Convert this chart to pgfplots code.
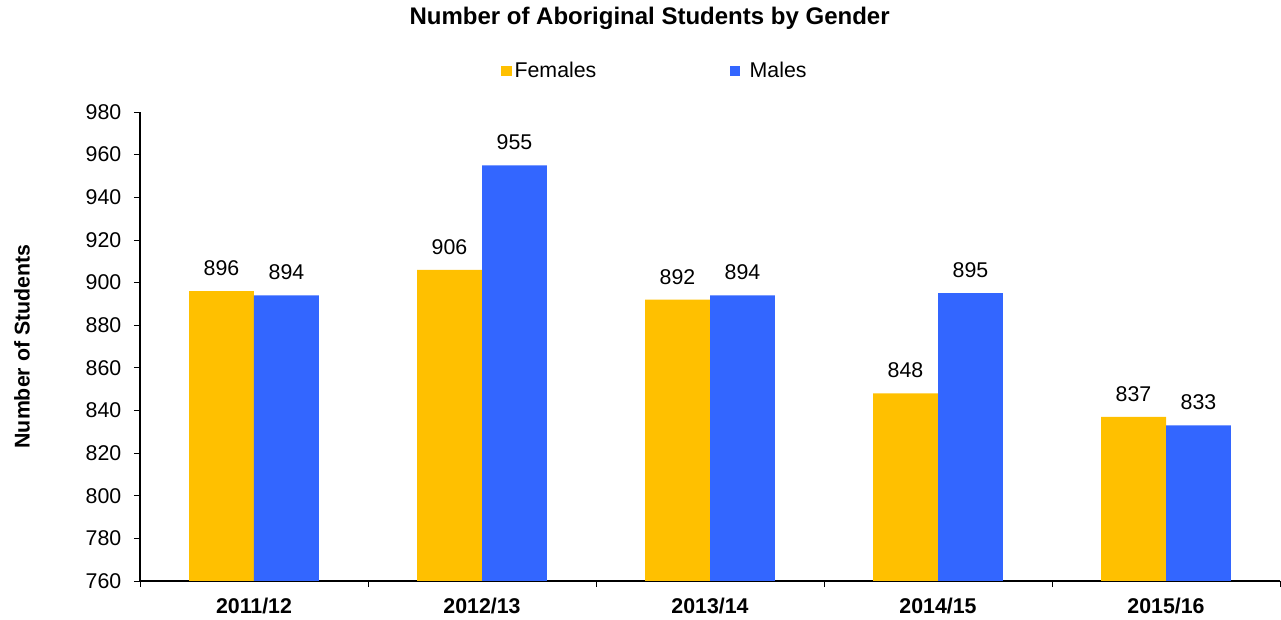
\documentclass[border=0pt]{standalone}
\usepackage{fontspec}
\setmainfont{Liberation Sans}
\usepackage{pgfplots}
\pgfplotsset{compat=1.18}
\definecolor{fem}{HTML}{FFC000}
\definecolor{mal}{HTML}{3366FF}
\begin{document}
\fontsize{16bp}{19bp}\selectfont
\begin{tikzpicture}
\path[use as bounding box] (-105bp,-29.25bp) rectangle (855.75bp,435.75bp);
\begin{axis}[
  at={(0,0)}, anchor=south west,
  scale only axis, width=855bp, height=351.75bp,
  font=\fontsize{16bp}{19bp}\selectfont,
  /pgf/number format/assume math mode=true,
  ybar=0pt, bar width=0.285,
  xmin=-0.5, xmax=4.5, ymin=760, ymax=980,
  enlargelimits=false,
  ytick={760,780,...,980},
  yticklabel style={xshift=-4bp},
  xtick={0,1,2,3,4},
  xticklabels={2011/12,2012/13,2013/14,2014/15,2015/16},
  xticklabel style={font=\fontsize{16bp}{19bp}\selectfont\bfseries, yshift=-2.5bp},
  minor xtick={-0.5,0.5,1.5,2.5,3.5,4.5},
  major x tick style={draw=none},
  axis x line*=bottom, axis y line*=left,
  axis line style={black, line width=0.8pt},
  tick align=outside,
  major tick length=4.5bp, minor tick length=4.5bp,
  tick style={black, line width=0.6pt},
  title={Number of Aboriginal Students by Gender},
  title style={font=\fontsize{18bp}{21bp}\selectfont\bfseries, at={(axis description cs:0.447,1)}, anchor=center, yshift=64.5bp},
  ylabel={Number of Students},
  ylabel style={font=\fontsize{16bp}{19bp}\selectfont\bfseries, at={(axis description cs:-0.1035,0.5)}, anchor=center},
  legend columns=2,
  legend style={draw=none, at={(axis description cs:0.452,1)}, anchor=center, yshift=30.75bp, font=\fontsize{16bp}{19bp}\selectfont},
  legend image code/.code={\fill[#1] (0bp,-4bp) rectangle (8bp,4bp);},
  /tikz/every even column/.append style={column sep=98bp},
  nodes near coords,
  every node near coord/.append style={font=\fontsize{16bp}{19bp}\selectfont, black, yshift=6bp},
]
\addplot[fill=fem, draw=none] coordinates {(0,896) (1,906) (2,892) (3,848) (4,837)};
\addplot[fill=mal, draw=none] coordinates {(0,894) (1,955) (2,894) (3,895) (4,833)};
\legend{Females, \hspace{5bp}Males}
\end{axis}
\end{tikzpicture}
\end{document}
